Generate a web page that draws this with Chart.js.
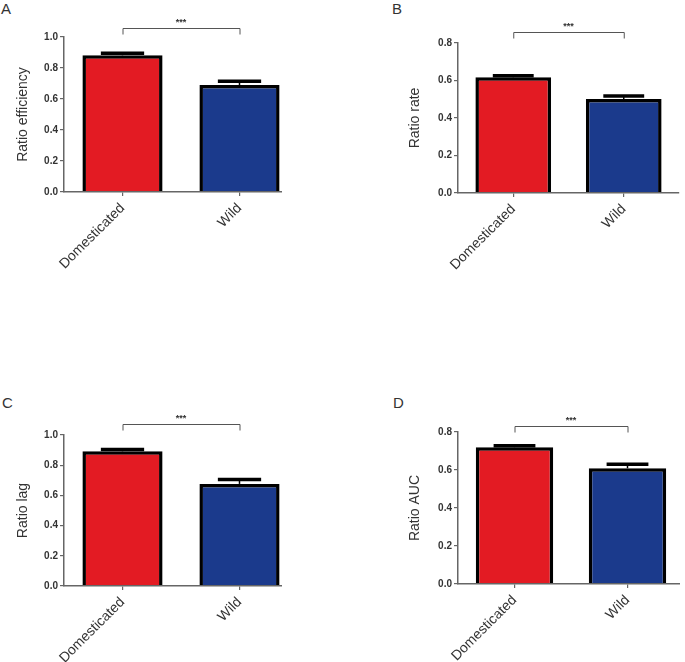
<!DOCTYPE html>
<html>
<head>
<meta charset="utf-8">
<script src="https://cdn.jsdelivr.net/npm/chart.js@4/dist/chart.umd.min.js"></script>
<style>
  html, body { margin: 0; padding: 0; background: #fff; }
  body { width: 685px; height: 662px; position: relative; overflow: hidden; font-family: "Liberation Sans", Arial, sans-serif; }
  .panel { position: absolute; overflow: hidden; }
  .letter { position: absolute; font-size: 15px; color: #333; line-height: 1; }
</style>
</head>
<body>
<div class="letter" style="left:1px;top:1px;">A</div>
<div class="letter" style="left:392px;top:1px;">B</div>
<div class="letter" style="left:2px;top:395px;">C</div>
<div class="letter" style="left:393px;top:395px;">D</div>

<div class="panel" id="pA" style="left:0px;top:0px;width:282px;height:330px;"><canvas id="cA" width="310" height="330"></canvas></div>
<div class="panel" id="pB" style="left:392px;top:0px;width:288px;height:330px;"><canvas id="cB" width="300" height="330"></canvas></div>
<div class="panel" id="pC" style="left:0px;top:390px;width:282px;height:272px;"><canvas id="cC" width="310" height="272"></canvas></div>
<div class="panel" id="pD" style="left:392px;top:390px;width:288px;height:272px;"><canvas id="cD" width="300" height="272"></canvas></div>

<script>
// ---- Data ----
const categories = ['Domesticated', 'Wild'];

const efficiencyMeans = [0.882, 0.690];
const efficiencyErrors = [0.013, 0.024];

const rateMeans = [0.618, 0.502];
const rateErrors = [0.008, 0.016];

const lagMeans = [0.892, 0.676];
const lagErrors = [0.012, 0.030];

const aucMeans = [0.720, 0.609];
const aucErrors = [0.008, 0.021];

const yTicksOneMax = 1.0;
const yTicksEightMax = 0.8;
const yStep = 0.2;
const significance = '***';

const barColors = ['#e31b23', '#1b3a8c'];
const FONT = '"Liberation Sans", Arial, sans-serif';

// ---- Plugin: error bars + significance bracket ----
const annotatePlugin = {
  id: 'annotate',
  afterDatasetsDraw(chart, args, opts) {
    const ctx = chart.ctx;
    const meta = chart.getDatasetMeta(0);
    const y = chart.scales.y;
    const errs = opts.errors || [];
    ctx.save();
    meta.data.forEach((bar, i) => {
      const v = chart.data.datasets[0].data[i];
      const top = y.getPixelForValue(v + errs[i]);
      const half = bar.width * 0.27;
      ctx.strokeStyle = '#000';
      ctx.lineWidth = 1.5;
      ctx.beginPath();
      ctx.moveTo(bar.x, bar.y);
      ctx.lineTo(bar.x, top);
      ctx.stroke();
      ctx.lineWidth = 3.5;
      ctx.beginPath();
      ctx.moveTo(bar.x - half, top);
      ctx.lineTo(bar.x + half, top);
      ctx.stroke();
    });
    // bracket
    const x0 = meta.data[0].x, x1 = meta.data[1].x;
    const by = chart.chartArea.top - opts.bracketGap;
    ctx.strokeStyle = '#555';
    ctx.lineWidth = 1;
    ctx.beginPath();
    ctx.moveTo(x0 + 0.5, by + 6.5);
    ctx.lineTo(x0 + 0.5, by + 0.5);
    ctx.lineTo(x1 + 0.5, by + 0.5);
    ctx.lineTo(x1 + 0.5, by + 6.5);
    ctx.stroke();
    ctx.fillStyle = '#333';
    ctx.font = 'bold 9px ' + FONT;
    ctx.textAlign = 'center';
    ctx.textBaseline = 'alphabetic';
    ctx.fillText(opts.text, (x0 + x1) / 2, by - 3);
    ctx.restore();
  }
};

function makeChart(canvasId, title, means, errors, yMax, cfg) {
  const cv = document.getElementById(canvasId);
  return new Chart(cv, {
    type: 'bar',
    data: {
      labels: categories,
      datasets: [{
        data: means,
        backgroundColor: barColors,
        borderColor: '#000',
        borderWidth: 3.5,
        borderSkipped: 'start',
        categoryPercentage: 1.0,
        barPercentage: 0.685
      }]
    },
    options: {
      responsive: false,
      animation: false,
      devicePixelRatio: 1,
      layout: { padding: { left: 0, top: cfg.top, right: cfg.right, bottom: 0 } },
      plugins: {
        legend: { display: false },
        tooltip: { enabled: false },
        annotate: { errors: errors, text: significance, bracketGap: cfg.gap }
      },
      scales: {
        x: {
          grid: { display: true, drawOnChartArea: false, drawTicks: true, tickLength: 4, offset: false, color: '#666', lineWidth: 1.2 },
          border: { display: true, color: '#666', width: 1.5, z: 1 },
          ticks: {
            minRotation: 45, maxRotation: 45, padding: 4,
            color: '#333', font: { family: FONT, size: 14 }
          },
          afterFit(s) { s.height = cfg.xh; }
        },
        y: {
          min: 0, max: yMax,
          grid: { display: true, drawOnChartArea: false, drawTicks: true, tickLength: 4, color: '#666', lineWidth: 1.2 },
          border: { display: true, color: '#666', width: 1.5 },
          ticks: {
            stepSize: yStep, padding: 2,
            color: '#333', font: { family: FONT, size: 10, weight: 'bold' },
            callback: v => Number(v).toFixed(1)
          },
          title: {
            display: true, text: title, color: '#333',
            font: { family: FONT, size: 14 },
            padding: { top: cfg.tpad, bottom: 0 }
          },
          afterFit(s) { s.width = cfg.yw; }
        }
      }
    },
    plugins: [annotatePlugin]
  });
}

// Panel A: area left 64, top 37, bottom 192, right 298
makeChart('cA', 'Ratio efficiency', efficiencyMeans, efficiencyErrors, yTicksOneMax,
  { top: 37, right: 310 - 298, xh: 330 - 192, yw: 64, tpad: 15, gap: 9 });
// Panel B: area left 458, top 43, bottom 193, right 679
makeChart('cB', 'Ratio rate', rateMeans, rateErrors, yTicksEightMax,
  { top: 43, right: 300 - (679 - 392), xh: 330 - 193, yw: 66, tpad: 15, gap: 11 });
// Panel C: area left 64, top 435, bottom 586, right 298
makeChart('cC', 'Ratio lag', lagMeans, lagErrors, yTicksOneMax,
  { top: 435 - 390, right: 310 - 298, xh: 272 - (586 - 390), yw: 64, tpad: 15, gap: 11 });
// Panel D: area left 458, top 432, bottom 584, right 684
makeChart('cD', 'Ratio AUC', aucMeans, aucErrors, yTicksEightMax,
  { top: 432 - 390, right: 300 - (684 - 392), xh: 272 - (584 - 390), yw: 66, tpad: 15, gap: 6 });
</script>
</body>
</html>
